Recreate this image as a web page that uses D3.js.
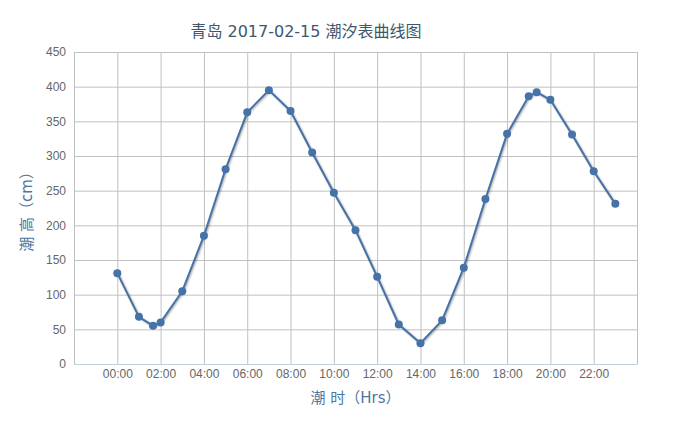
<!DOCTYPE html>
<html>
<head>
<meta charset="utf-8">
<script src="https://cdn.jsdelivr.net/npm/d3@7"></script>
<style>
  body { margin: 0; background: #fff; }
  svg { display: block; font-family: "DejaVu Sans", "Noto Sans CJK SC", sans-serif; }
</style>
</head>
<body>
<div id="chart"></div>
<script>
/**
 * DATA
 * */
const tideTimes = ["00:00", "01:00", "01:39", "02:00", "03:00", "04:00", "05:00", "06:00",
  "07:00", "08:00", "09:00", "10:00", "11:00", "12:00", "13:00", "14:00", "15:00",
  "16:00", "17:00", "18:00", "19:00", "19:22", "20:00", "21:00", "22:00", "23:00"];
const tideHeights = [131, 68, 55, 60, 105, 185, 281, 363, 395, 365, 305, 247, 193, 126,
  57, 30, 63, 139, 238, 332, 386, 392, 381, 331, 278, 231];
const hourTicks = [-2, 0, 2, 4, 6, 8, 10, 12, 14, 16, 18, 20, 22, 24];
const heightTicks = [0, 50, 100, 150, 200, 250, 300, 350, 400, 450];

const chartTitle = "青岛 2017-02-15 潮汐表曲线图";
const xTitle = "潮 时（Hrs）";
const yTitle = "潮 高（cm）";

/**
 * CONSTANTS
 * */
const width = 674,
  height = 422,
  plot = { left: 74, right: 637, top: 52, bottom: 364 };

const lineColor = "#4572A7";

const toHours = t => {
  const [h, m] = t.split(":").map(Number);
  return h + m / 60;
};

const data = tideTimes.map((t, i) => ({ hour: toHours(t), value: tideHeights[i] }));

const svg = d3.select("#chart")
  .append("svg")
  .attr("width", width)
  .attr("height", height);

const x = d3.scaleLinear().domain([-2, 24]).range([plot.left, plot.right]);
const y = d3.scaleLinear().domain([0, 450]).range([plot.bottom, plot.top]);

// horizontal grid + y labels
const yAxis = svg.append("g")
  .attr("transform", `translate(${plot.left},0)`)
  .call(d3.axisLeft(y)
    .tickValues(heightTicks)
    .tickSize(-(plot.right - plot.left))
    .tickPadding(8));
yAxis.select(".domain").remove();
yAxis.selectAll("line").attr("stroke", "#C0C0C0");
yAxis.selectAll("text")
  .attr("fill", "#666")
  .style("font-size", "12px");

// vertical grid + x labels
const xAxis = svg.append("g")
  .attr("transform", `translate(0,${plot.bottom})`)
  .call(d3.axisBottom(x)
    .tickValues(hourTicks)
    .tickSize(-(plot.bottom - plot.top))
    .tickPadding(5)
    .tickFormat(d => (d < 0 || d >= 24) ? "" : String(d).padStart(2, "0") + ":00"));
xAxis.select(".domain").attr("stroke", "#C0D0E0");
xAxis.selectAll("line").attr("stroke", "#C0C0C0");
xAxis.selectAll("text")
  .attr("fill", "#666")
  .attr("dy", "0.75em")
  .style("font-size", "12px");

// line with a soft shadow
const line = d3.line().x(d => x(d.hour)).y(d => y(d.value));

[[5, 0.05], [3, 0.1], [1, 0.15]].forEach(([w, o]) => {
  svg.append("path")
    .datum(data)
    .attr("transform", "translate(1,1)")
    .attr("fill", "none")
    .attr("stroke", "#000")
    .attr("stroke-opacity", o)
    .attr("stroke-width", w)
    .attr("stroke-linejoin", "round")
    .attr("d", line);
});

svg.append("path")
  .datum(data)
  .attr("fill", "none")
  .attr("stroke", lineColor)
  .attr("stroke-width", 2)
  .attr("stroke-linejoin", "round")
  .attr("d", line);

svg.selectAll("circle")
  .data(data)
  .join("circle")
  .attr("cx", d => x(d.hour))
  .attr("cy", d => y(d.value))
  .attr("r", 4)
  .attr("fill", lineColor);

// titles
svg.append("text")
  .attr("x", 306)
  .attr("y", 37)
  .attr("text-anchor", "middle")
  .attr("fill", "#3E576F")
  .style("font-size", "16px")
  .text(chartTitle);

svg.append("text")
  .attr("x", (plot.left + plot.right) / 2)
  .attr("y", 403)
  .attr("text-anchor", "middle")
  .attr("fill", "#4D759E")
  .style("font-size", "15px")
  .text(xTitle);

svg.append("text")
  .attr("transform", `translate(27,${(plot.top + plot.bottom) / 2}) rotate(-90)`)
  .attr("text-anchor", "middle")
  .attr("dy", "0.35em")
  .attr("fill", "#4D759E")
  .style("font-size", "15px")
  .text(yTitle);
</script>
</body>
</html>
